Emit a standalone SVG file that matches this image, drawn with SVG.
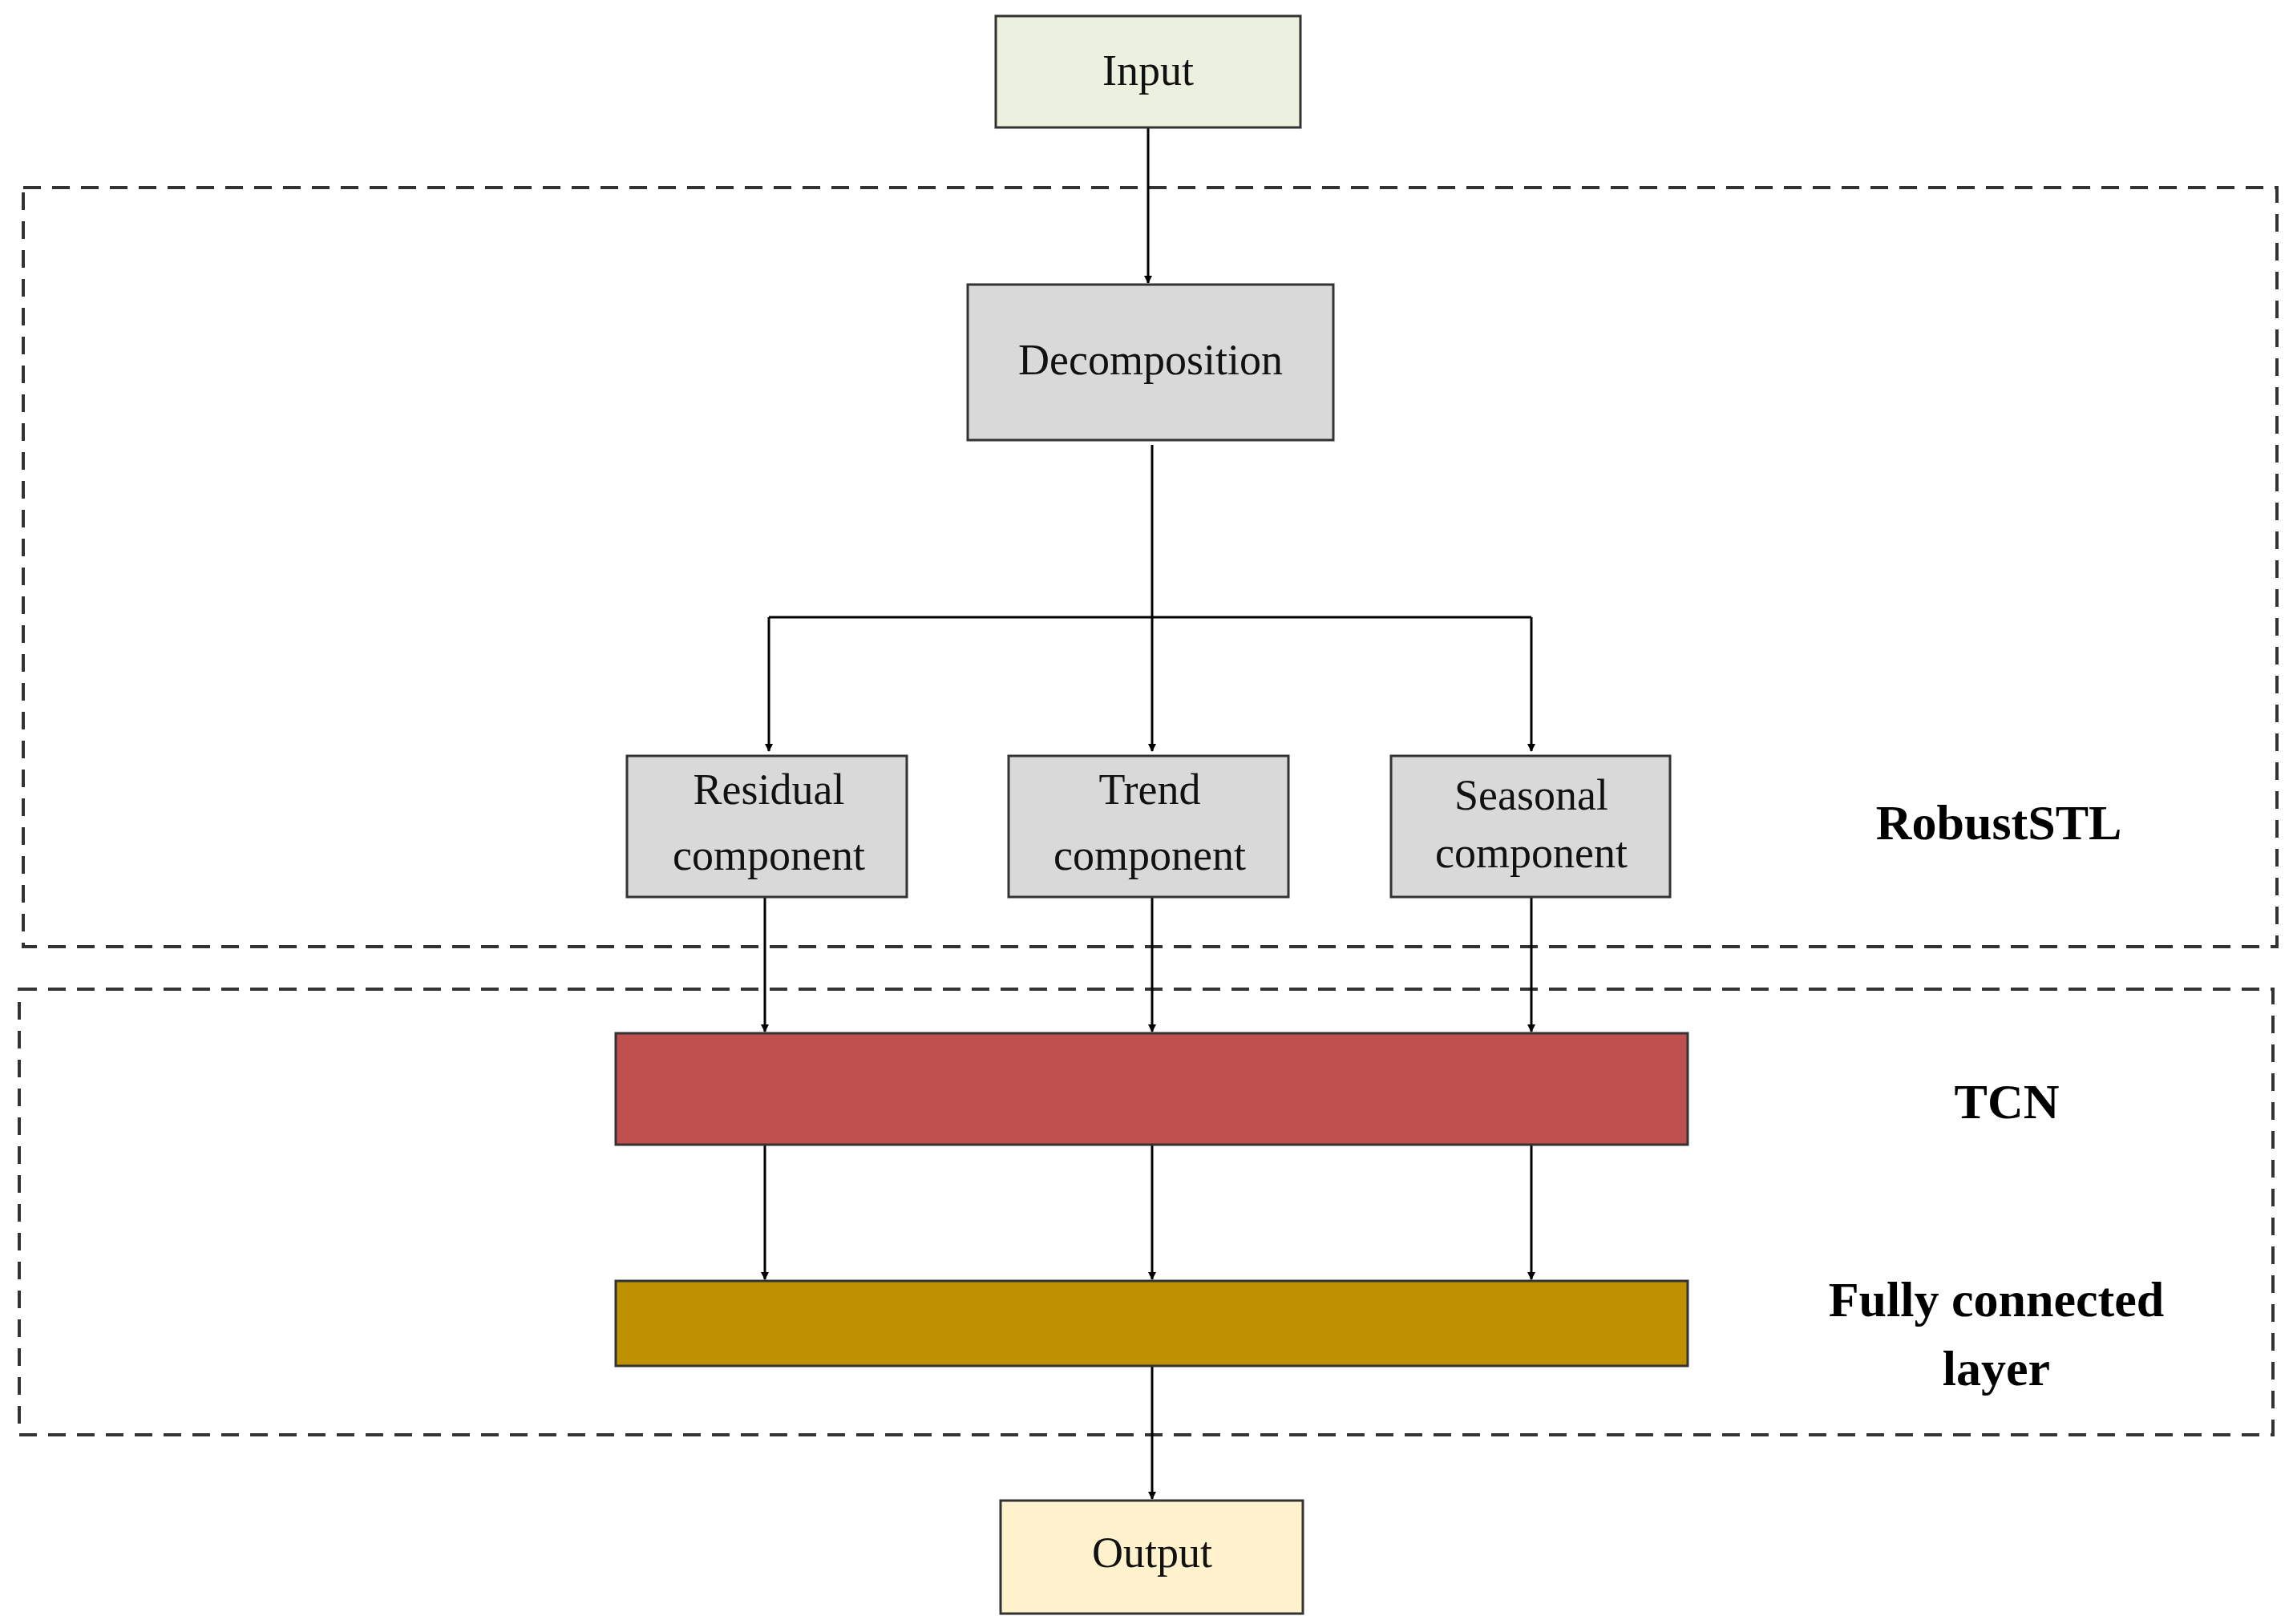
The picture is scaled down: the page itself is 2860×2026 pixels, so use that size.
<svg xmlns="http://www.w3.org/2000/svg" width="2860" height="2026" viewBox="0 0 2860 2026">
<defs>
<marker id="ah" markerWidth="10" markerHeight="10" refX="9" refY="5" orient="auto" markerUnits="userSpaceOnUse" viewBox="0 0 10 10"><path d="M0,0 L10,5 L0,10 z" fill="#000"/></marker>
<style>
.box{stroke:#333;stroke-width:3}
.t{font-family:"Liberation Serif",serif;font-size:54px;text-anchor:middle;fill:#111}
.b{font-family:"Liberation Serif",serif;font-size:62px;font-weight:bold;text-anchor:middle;fill:#000}
.c{stroke:#000;stroke-width:3;fill:none}
.a{marker-end:url(#ah)}
.d{fill:none;stroke:#333;stroke-width:4;stroke-dasharray:22,14}
</style>
</defs>
<rect width="2860" height="2026" fill="#fff"/>
<rect class="d" x="29" y="234" width="2811" height="947"/>
<rect class="d" x="24" y="1234" width="2811" height="556"/>
<g id="connectors">
<path class="c a" d="M1432,159 V353"/>
<path class="c a" d="M1437,555 V937"/>
<path class="c" d="M959,770 H1910"/>
<path class="c a" d="M959,770 V937"/>
<path class="c a" d="M1910,770 V937"/>
<path class="c a" d="M954,1119 V1287"/>
<path class="c a" d="M1437,1119 V1287"/>
<path class="c a" d="M1910,1119 V1287"/>
<path class="c a" d="M954,1428 V1596"/>
<path class="c a" d="M1437,1428 V1596"/>
<path class="c a" d="M1910,1428 V1596"/>
<path class="c a" d="M1437,1704 V1870"/>
</g>
<g id="input"><rect class="box" x="1242" y="20" width="380" height="139" fill="#EBF1DE"/><text class="t" x="1432" y="106">Input</text></g>
<g id="decomposition"><rect class="box" x="1207" y="355" width="456" height="194" fill="#D9D9D9"/><text class="t" x="1435" y="467">Decomposition</text></g>
<g id="residual"><rect class="box" x="782" y="943" width="349" height="176" fill="#D9D9D9"/><text class="t" x="959" y="1003">Residual</text><text class="t" x="959" y="1085">component</text></g>
<g id="trend"><rect class="box" x="1258" y="943" width="349" height="176" fill="#D9D9D9"/><text class="t" x="1434" y="1003">Trend</text><text class="t" x="1434" y="1085">component</text></g>
<g id="seasonal"><rect class="box" x="1735" y="943" width="348" height="176" fill="#D9D9D9"/><text class="t" x="1910" y="1010">Seasonal</text><text class="t" x="1910" y="1082">component</text></g>
<g id="tcn"><rect class="box" x="768" y="1289" width="1337" height="139" fill="#C0504D"/></g>
<g id="fc"><rect class="box" x="768" y="1598" width="1337" height="106" fill="#BF9000"/></g>
<g id="output"><rect class="box" x="1248" y="1872" width="377" height="141" fill="#FFF2CC"/><text class="t" x="1437" y="1955">Output</text></g>
<g id="labels">
<text class="b" x="2493" y="1047">RobustSTL</text>
<text class="b" x="2503" y="1395">TCN</text>
<text class="b" x="2490" y="1642">Fully connected</text>
<text class="b" x="2490" y="1728">layer</text>
</g>
</svg>
